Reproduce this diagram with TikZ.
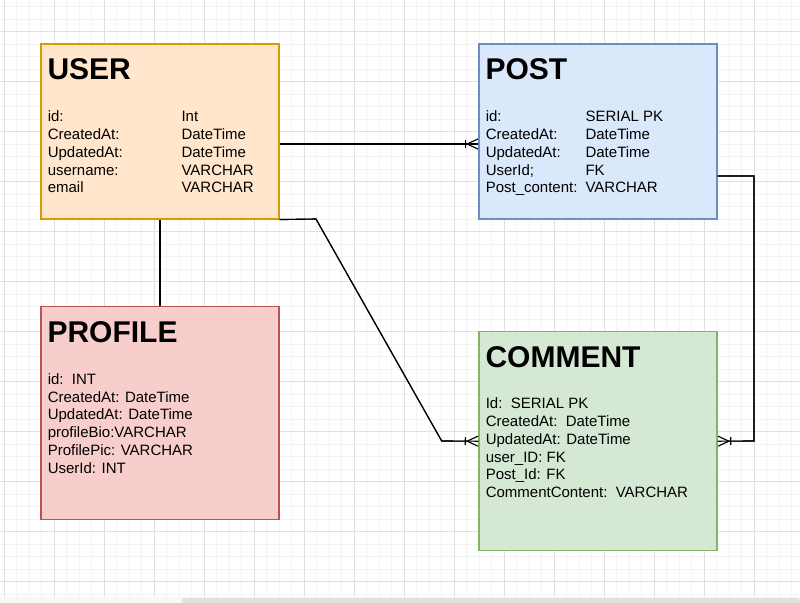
\documentclass[tikz,border=0pt]{standalone}
\usepackage{fontspec}
\setmainfont{Liberation Sans}
\usetikzlibrary{arrows.meta,fit}

\definecolor{userfill}{HTML}{FFE6CC}
\definecolor{userdraw}{HTML}{D79B00}
\definecolor{postfill}{HTML}{DAE8FC}
\definecolor{postdraw}{HTML}{6C8EBF}
\definecolor{profilefill}{HTML}{F8CECC}
\definecolor{profiledraw}{HTML}{B85450}
\definecolor{commentfill}{HTML}{D5E8D4}
\definecolor{commentdraw}{HTML}{82B366}
\definecolor{gridmin}{HTML}{F3F3F3}
\definecolor{gridmaj}{HTML}{E0E0E0}

\tikzset{
  entity/.style={rectangle, inner sep=0pt, line width=0.85pt},
  title/.style={anchor=base west, inner sep=0pt, font=\fontsize{22.5}{27}\selectfont\bfseries},
  field/.style={anchor=base west, inner sep=0pt, font=\fontsize{11.25}{13.5}\selectfont},
  rel/.style={line width=0.85pt, black},
  crow/.style={postaction={draw, -{Bar[width=6pt] Straight Barb[reversed, length=8pt, width=7.5pt]}}},
  gridminor/.style={gridmin, line width=0.75pt},
  gridmajor/.style={gridmaj, line width=0.75pt}
}

\begin{document}
\begin{tikzpicture}[x=0.75pt, y=-0.75pt]
  \useasboundingbox (0,0) rectangle (800,603);

  %%%%%%%%%%%%%%%%%%%%%%%%%%%%%%%%%%%%%%%%%%%%%%%%%%%%%%%%%%%%%%%%%%%%%
  % Raster
  \foreach \k in {0,...,63} \draw[gridminor] (4.3+12.5*\k,0) -- (4.3+12.5*\k,597);
  \foreach \k in {0,...,47} \draw[gridminor] (0,6.7+12.5*\k) -- (800,6.7+12.5*\k);
  \foreach \k in {0,...,15} \draw[gridmajor] (4.3+50*\k,0) -- (4.3+50*\k,597);
  \foreach \k in {0,...,11} \draw[gridmajor] (0,31.7+50*\k) -- (800,31.7+50*\k);
  \fill[white!97!black] (0,597) rectangle (800,603);
  \fill[gridmaj, rounded corners=2pt] (182,598) rectangle (800,606);

  %%%%%%%%%%%%%%%%%%%%%%%%%%%%%%%%%%%%%%%%%%%%%%%%%%%%%%%%%%%%%%%%%%%%%
  % User
  \node[entity, fill=userfill, draw=userdraw, fit={(41,44) (279,219)}] (user) {};
  \node[title] (usertitle) at (47.3,79.3) {USER};
  \foreach \f/\t [count=\i from 0] in {id:/Int, CreatedAt:/DateTime, UpdatedAt:/DateTime, username:/VARCHAR, email/VARCHAR} {
    \node[field] (user-f\i) at (47.5,121.7+17.8*\i) {\f};
    \node[field] (user-t\i) at (181.3,121.7+17.8*\i) {\t};
  }

  % Post
  \node[entity, fill=postfill, draw=postdraw, fit={(479,44) (717,219)}] (post) {};
  \node[title] (posttitle) at (485.3,79.3) {POST};
  \foreach \f/\t [count=\i from 0] in {id:/SERIAL PK, CreatedAt:/DateTime, UpdatedAt:/DateTime, UserId;/FK, Post\_content:/VARCHAR} {
    \node[field] (post-f\i) at (485.5,121.7+17.8*\i) {\f};
    \node[field] (post-t\i) at (585.3,121.7+17.8*\i) {\t};
  }

  % Profile
  \node[entity, fill=profilefill, draw=profiledraw, fit={(41,306.7) (279,519.3)}] (profile) {};
  \node[title] (profiletitle) at (47.3,342.7) {PROFILE};
  \foreach \f [count=\i from 0] in {id:\ \ INT, CreatedAt: DateTime, UpdatedAt: DateTime, profileBio:VARCHAR, ProfilePic: VARCHAR, UserId: INT}
    \node[field] (profile-f\i) at (47.5,384.3+17.8*\i) {\f};

  % Comment
  \node[entity, fill=commentfill, draw=commentdraw, fit={(479,331.7) (717,550.7)}] (comment) {};
  \node[title] (commenttitle) at (485.3,367.7) {COMMENT};
  \foreach \f [count=\i from 0] in {Id:\ \ SERIAL PK, CreatedAt:\ \ DateTime, UpdatedAt: DateTime, user\_ID: FK, Post\_Id: FK, CommentContent:\ \ VARCHAR}
    \node[field] (comment-f\i) at (485.5,408.7+17.8*\i) {\f};

  %%%%%%%%%%%%%%%%%%%%%%%%%%%%%%%%%%%%%%%%%%%%%%%%%%%%%%%%%%%%%%%%%%%%%
  % Beziehungen
  \draw[rel] (user.south) -- (profile.north);
  \draw[rel, crow] (user.east |- 0,144) -- (post.west |- 0,144);
  \draw[rel, crow] (user.south east) -- (316,219) -- (441.7,441) -- (comment.west);
  \draw[rel, crow] (post.east |- 0,176) -| (754,441) -- (comment.east);

\end{tikzpicture}
\end{document}
